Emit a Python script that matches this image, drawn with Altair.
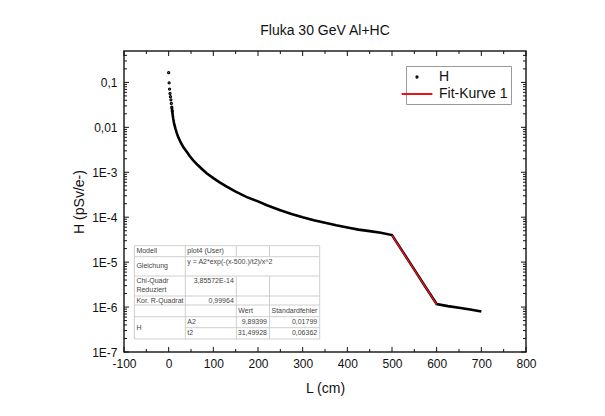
import altair as alt
import pandas as pd

# ---------------- values ----------------
h_L = [0, 1, 2, 3, 4, 5, 6, 7, 8, 9, 10, 12, 15, 18, 22, 27, 33, 40, 47, 55, 65, 75, 85,
       100, 115, 130, 150, 175, 200, 220, 250, 275, 300, 325, 350, 375, 400, 425, 450, 475,
       500, 525, 550, 575, 600, 625, 650, 675, 700]
h_H = [0.165, 0.098, 0.071, 0.057, 0.048, 0.041, 0.034, 0.028, 0.023, 0.019, 0.016,
       0.0125, 0.0095, 0.0075, 0.0059, 0.0046, 0.0036, 0.0029, 0.0023, 0.00185, 0.00145, 0.00117, 0.00095,
       0.00074, 0.00059, 0.00048, 0.00037, 0.00028, 0.000225, 0.000185, 0.000143, 0.000118,
       0.0001, 0.000086, 0.000075, 0.000066, 0.000059, 0.000053, 0.000049, 0.000045, 0.00004,
       0.0000165, 0.0000068, 0.0000028, 0.00000117,
       0.00000105, 0.00000097, 0.00000088, 0.0000008]
fit_L = [500, 525, 550, 575, 600]
fit_H = [3.96e-5, 1.62e-5, 6.7e-6, 2.77e-6, 1.15e-6]
series_names = ["H", "Fit-Kurve 1"]

x_major = [-100, 0, 100, 200, 300, 400, 500, 600, 700, 800]
x_major_labels = ["-100", "0", "100", "200", "300", "400", "500", "600", "700", "800"]
x_minor = [-50, 50, 150, 250, 350, 450, 550, 650, 750]
y_major = [1e-7, 1e-6, 1e-5, 1e-4, 1e-3, 1e-2, 1e-1]
y_major_labels = ["1E-7", "1E-6", "1E-5", "1E-4", "1E-3", "0,01", "0,1"]
y_minor = [k * d for d in [1e-7, 1e-6, 1e-5, 1e-4, 1e-3, 1e-2] for k in range(2, 10)] + [0.2, 0.3, 0.4]

# fit-result table (text only)
tbl_text = ["Modell", "plot4 (User)", "Gleichung", "y = A2*exp(-(x-500.)/t2)/x^2",
            "Chi-Quadr", "Reduziert", "3,85572E-14", "Kor. R-Quadrat", "0,99964",
            "Wert", "Standardfehler", "H", "A2", "9,89399", "0,01799", "t2", "31,49928", "0,06362"]
tbl_col = [0, 1, 0, 1, 0, 0, 1, 0, 1, 2, 3, 0, 1, 2, 3, 1, 2, 3]
tbl_row = [0, 0, 1, 1, 2, 2, 2, 3, 3, 4, 4, 5, 5, 5, 5, 6, 6, 6]
tbl_align = ["left", "left", "left", "left", "left", "left", "right", "left", "right",
             "left", "left", "left", "left", "right", "right", "left", "right", "right"]
tbl_vpos = ["c", "c", "c", "t1", "t1", "t2", "t1", "c", "c", "c", "c", "span", "c", "c", "c", "c", "c", "c"]

# ---------------- layout / style ----------------
W, H = 402, 301
FONT = "Liberation Sans"
INK = "#111111"
series_colors = ["black", "#e8141b"]
SYM = 196
series_shapes = ["M-0.09,0A0.09,0.09,0,1,1,0.09,0A0.09,0.09,0,1,1,-0.09,0Z", "M-2.2,0L2.2,0"]
TBL_COLS = [10.4, 61.3, 112.3, 145.5, 195.7]
TBL_ROWS = [194.7, 205.7, 225.0, 245.0, 254.0, 265.7, 276.7, 288.0]
MAJ, MIN = 5, 3  # tick lengths in px

X_DOM = [-100, 800]
Y_DOM = [1e-7, 0.5]
X_SCALE = alt.Scale(domain=X_DOM, nice=False, zero=False)
Y_SCALE = alt.Scale(type="log", domain=Y_DOM, nice=False)

x_expr = " : ".join(f"datum.value == {v} ? '{lab}'" for v, lab in zip(x_major, x_major_labels)) + " : ''"
y_expr = "".join(f"datum.value < {v * 3:g} ? '{lab}' : " for v, lab in zip(y_major[:-1], y_major_labels[:-1])) + f"'{y_major_labels[-1]}'"


def X(axis=None):
    if axis is None:
        return alt.X("L:Q", scale=X_SCALE)
    return alt.X("L:Q", scale=X_SCALE, axis=axis)


def Y(axis=None):
    if axis is None:
        return alt.Y("H:Q", scale=Y_SCALE)
    return alt.Y("H:Q", scale=Y_SCALE, axis=axis)


x_label_axis = alt.Axis(orient="bottom", values=x_major, labelExpr=x_expr, ticks=False, tickSize=0,
                        domain=False, grid=False, labelPadding=6, labelFontSize=12, labelColor=INK,
                        labelFlush=False, labelOverlap=False, title="L (cm)", titleFontSize=14,
                        titleFontWeight="normal", titleColor=INK, titlePadding=12)
y_label_axis = alt.Axis(orient="left", values=y_major, labelExpr=y_expr, ticks=False, tickSize=0,
                        domain=False, grid=False, labelPadding=7, labelFontSize=12, labelColor=INK,
                        labelFlush=False, labelOverlap=False, title="H (pSv/e-)", titleFontSize=14,
                        titleFontWeight="normal", titleColor=INK, titlePadding=5)

df_h = pd.DataFrame({"L": h_L, "H": h_H, "series": series_names[0]})
df_fit = pd.DataFrame({"L": fit_L, "H": fit_H, "series": series_names[1]})

legend = alt.Legend(orient="top-right", offset=15, title=None, symbolSize=SYM, symbolStrokeWidth=2,
                    labelFontSize=14, labelColor=INK, labelFont=FONT, strokeColor="#9a9a9a",
                    fillColor="white", padding=3, rowPadding=2, labelOffset=14, symbolOpacity=1)

line_h = alt.Chart(df_h).transform_filter("datum.L >= 7").mark_line(
    color="black", strokeWidth=2.6).encode(x=X(x_label_axis), y=Y(y_label_axis))

pts_h = alt.Chart(df_h).transform_filter("datum.L <= 8").mark_point(
    filled=False, size=SYM, strokeWidth=2, opacity=1).encode(
    x=X(), y=Y(),
    color=alt.Color("series:N", scale=alt.Scale(domain=series_names, range=series_colors), legend=legend),
    shape=alt.Shape("series:N", scale=alt.Scale(domain=series_names, range=series_shapes), legend=legend),
)

fit = alt.Chart(df_fit).mark_line(color=series_colors[1], strokeWidth=1.4).encode(x=X(), y=Y())

# ---- inward ticks on all four frame sides: short segments through the shared scales ----
x_per_px = (X_DOM[1] - X_DOM[0]) / W
y_ratio_per_px = (Y_DOM[1] / Y_DOM[0]) ** (1 / H)
tick_rows = []
for vals, size in ((x_major, MAJ), (x_minor, MIN)):
    up = y_ratio_per_px ** size
    for v in vals:
        tick_rows += [(f"b{v}", v, Y_DOM[0]), (f"b{v}", v, Y_DOM[0] * up),
                      (f"t{v}", v, Y_DOM[1]), (f"t{v}", v, Y_DOM[1] / up)]
for vals, size in ((y_major, MAJ), (y_minor, MIN)):
    d = x_per_px * size
    for v in vals:
        tick_rows += [(f"l{v}", X_DOM[0], v), (f"l{v}", X_DOM[0] + d, v),
                      (f"r{v}", X_DOM[1] - d, v), (f"r{v}", X_DOM[1], v)]
tick_df = pd.DataFrame(tick_rows, columns=["id", "L", "H"])

ticks = alt.Chart(tick_df).mark_line(color=INK, strokeWidth=1).encode(
    x=X(), y=Y(), detail="id:N")

# ---- table geometry built from layout constants ----
cells = []
for t, c, r, a, v in zip(tbl_text, tbl_col, tbl_row, tbl_align, tbl_vpos):
    px = TBL_COLS[c] + 2 if a == "left" else TBL_COLS[c + 1] - 2.5
    top, bot = TBL_ROWS[r], TBL_ROWS[r + 1]
    if v == "c":
        py = (top + bot) / 2
    elif v == "t1":
        py = top + 5.3
    elif v == "t2":
        py = top + 13.8
    else:
        py = (top + TBL_ROWS[r + 2]) / 2
    cells.append({"t": t, "px": px, "py": py, "align": a})
tbl_df = pd.DataFrame(cells)

cl, cr = TBL_COLS[0], TBL_COLS[-1]
segs = []
for i, yv in enumerate(TBL_ROWS):
    segs.append((TBL_COLS[1] if i == 6 else cl, yv, cr, yv))
for i, xv in enumerate(TBL_COLS):
    if i in (2, 3):
        segs.append((xv, TBL_ROWS[0], xv, TBL_ROWS[1]))
        segs.append((xv, TBL_ROWS[2], xv, TBL_ROWS[-1]))
    else:
        segs.append((xv, TBL_ROWS[0], xv, TBL_ROWS[-1]))
seg_df = pd.DataFrame(segs, columns=["x1", "y1", "x2", "y2"])

tbl_rules = alt.Chart(seg_df).mark_rule(color="#cfcfcf", strokeWidth=1).encode(
    x=alt.X("x1:Q", scale=None, axis=None), x2="x2:Q",
    y=alt.Y("y1:Q", scale=None, axis=None), y2="y2:Q")


def tbl_txt(al):
    return alt.Chart(tbl_df).transform_filter(f"datum.align == '{al}'").mark_text(
        align=al, baseline="middle", fontSize=7, font=FONT, color="#444444").encode(
        x=alt.X("px:Q", scale=None, axis=None), y=alt.Y("py:Q", scale=None, axis=None), text="t:N")


chart = alt.layer(
    line_h, fit, pts_h, ticks, tbl_rules, tbl_txt("left"), tbl_txt("right")
).properties(
    width=W, height=H,
    title=alt.TitleParams("Fluka 30 GeV Al+HC", fontSize=14, fontWeight="normal", color=INK,
                          offset=11, anchor="middle", font=FONT),
    padding={"left": 116, "top": 43, "right": 60, "bottom": 50},
    autosize=alt.AutoSizeParams(type="none"),
    background="white",
).configure(font=FONT).configure_view(stroke="#222222", strokeWidth=1.5)

chart.save("out.html", embed_options={"renderer": "svg", "actions": False})
